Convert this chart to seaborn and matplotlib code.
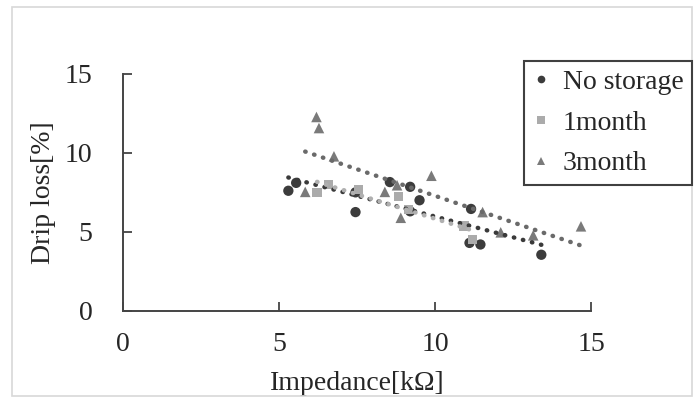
import numpy as np
import pandas as pd
import matplotlib
matplotlib.use("Agg")
import matplotlib.pyplot as plt
import matplotlib.patches as mpatches
from matplotlib.lines import Line2D
import seaborn as sns

# ---- data ----
series_names = ["No storage", "1month", "3month"]

nostorage_x = [5.30, 5.55, 7.45, 7.45, 8.55, 9.20, 9.50, 9.20, 11.15, 11.10, 11.45, 13.40]
nostorage_y = [7.60, 8.10, 7.50, 6.25, 8.15, 7.85, 7.00, 6.30, 6.45, 4.30, 4.20, 3.55]

month1_x = [6.22, 6.58, 7.54, 8.82, 9.15, 10.92, 11.20]
month1_y = [7.50, 8.00, 7.70, 7.25, 6.40, 5.37, 4.50]

month3_x = [5.84, 6.20, 6.28, 6.76, 8.39, 8.78, 8.90, 9.88, 11.52, 12.10, 13.14, 14.67]
month3_y = [7.53, 12.27, 11.57, 9.78, 7.53, 7.95, 5.89, 8.55, 6.25, 4.97, 4.78, 5.35]

x_ticks = [0, 5, 10, 15]
y_ticks = [0, 5, 10, 15]
x_label = "Impedance[k\u03a9]"
y_label = "Drip loss[%]"

# ---- styling ----
sns.set_style("white")
plt.rcParams["font.family"] = ["Liberation Serif", "DejaVu Serif"]

fig = plt.figure(figsize=(6.94, 3.97), dpi=100)
ax = fig.add_axes([0.177, 0.217, 0.675, 0.597])

datasets = [
    (series_names[0], nostorage_x, nostorage_y, "o", "#3c3c3c", "#3a3a3a", 55),
    (series_names[1], month1_x, month1_y, "s", "#ababab", "#b0b0b0", 45),
    (series_names[2], month3_x, month3_y, "^", "#7a7a7a", "#6a6a6a", 58),
]

handles = []
for name, xs, ys, mk, col, lcol, s in datasets:
    df = pd.DataFrame({"x": xs, "y": ys})
    sns.scatterplot(data=df, x="x", y="y", marker=mk, color=col, s=s,
                    edgecolor="none", ax=ax, zorder=3)
    sns.regplot(data=df, x="x", y="y", scatter=False, ci=None, ax=ax,
                line_kws=dict(color=lcol, lw=3.2, linestyle=(0, (0.1, 2.0)),
                              dash_capstyle="round", zorder=4))
    handles.append(Line2D([0], [0], marker=mk, color=col, linestyle="none",
                          markersize=5.5, markeredgewidth=0, label=name))

ax.set_xlim(0, 15)
ax.set_ylim(0, 15)
ax.set_xticks(x_ticks)
ax.set_yticks(y_ticks)
ax.set_xlabel(x_label, fontsize=20, labelpad=10)
ax.set_ylabel(y_label, fontsize=20, labelpad=6)
ax.tick_params(axis="both", labelsize=20, direction="in", length=6.5, width=1.3,
               color="#444444")
ax.tick_params(axis="x", pad=15)
ax.tick_params(axis="y", pad=22)
ax.xaxis.set_ticks_position("bottom")
ax.yaxis.set_ticks_position("left")
for sp in ["top", "right"]:
    ax.spines[sp].set_visible(False)
for sp in ["left", "bottom"]:
    ax.spines[sp].set_color("#444444")
    ax.spines[sp].set_linewidth(1.4)
ax.set_facecolor("white")

leg = fig.legend(handles=handles, loc="upper right", bbox_to_anchor=(0.997, 0.846),
                 fontsize=20, frameon=True, fancybox=False, framealpha=1,
                 edgecolor="#404040", handlelength=0.6, handletextpad=0.5,
                 labelspacing=0.55, borderpad=0.3, borderaxespad=0)
leg.get_frame().set_linewidth(1.5)

# outer chart-area border
fig.patches.append(mpatches.Rectangle((0.017, 0.003), 0.98, 0.979,
                                      transform=fig.transFigure, fill=False,
                                      edgecolor="#d8d8d8", lw=1.2))

fig.savefig("out.png", dpi=100)
